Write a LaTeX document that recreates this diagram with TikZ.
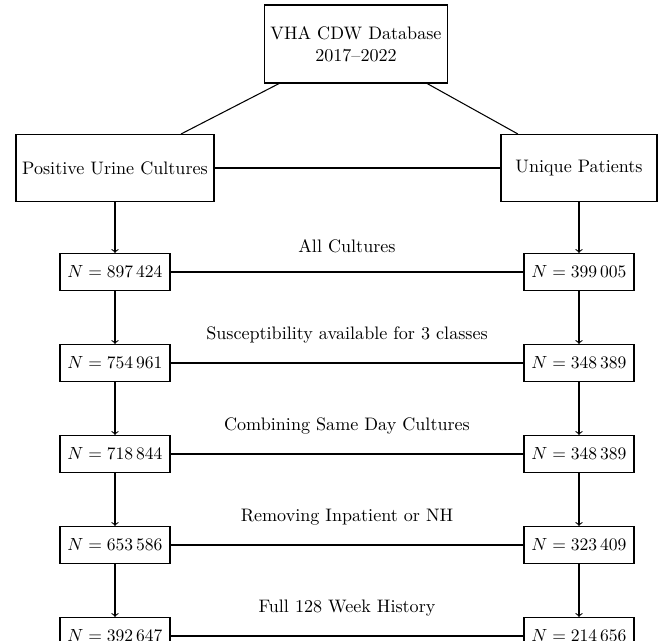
\documentclass[tikz,border=0pt]{standalone}
\usepackage{tikz}
\usepackage{amsmath}
\usepackage{amssymb}

\begin{document}
\begin{tikzpicture}[
    line width=0.6pt,
    every node/.style={font=\fontsize{10.3}{12.6}\selectfont},
    mainbox/.style={draw, align=center, minimum height=1.34cm},
    countbox/.style={draw, minimum width=2.2cm, minimum height=0.74cm},
    steplabel/.style={midway, above=0.26cm}
  ]
  % Fix the page size
  \useasboundingbox (0,0) rectangle (13.18,12.82);
  % Source and the two counts
  \node[mainbox, minimum width=3.64cm, minimum height=1.56cm] (cdw) at (7.12,11.94) {VHA CDW Database\\2017--2022};
  \node[mainbox, minimum width=3.96cm] (cult) at (2.30,9.46) {Positive Urine Cultures};
  \node[mainbox, minimum width=3.12cm] (pat) at (11.58,9.46) {Unique Patients};
  \draw (cdw) -- (cult);
  \draw (cdw) -- (pat);
  \draw (cult) -- (pat);
  % Filtering steps
  \node[countbox] (c1) at (2.30,7.38) {$N = 897\,424$};
  \node[countbox] (p1) at (11.58,7.38) {$N = 399\,005$};
  \node[countbox] (c2) at (2.30,5.56) {$N = 754\,961$};
  \node[countbox] (p2) at (11.58,5.56) {$N = 348\,389$};
  \node[countbox] (c3) at (2.30,3.74) {$N = 718\,844$};
  \node[countbox] (p3) at (11.58,3.74) {$N = 348\,389$};
  \node[countbox] (c4) at (2.30,1.92) {$N = 653\,586$};
  \node[countbox] (p4) at (11.58,1.92) {$N = 323\,409$};
  \node[countbox] (c5) at (2.30,0.10) {$N = 392\,647$};
  \node[countbox] (p5) at (11.58,0.10) {$N = 214\,656$};
  % Arrows down each column
  \draw[->] (cult) -- (c1);
  \draw[->] (pat) -- (p1);
  \foreach \a/\b in {1/2,2/3,3/4,4/5} {
    \draw[->] (c\a) -- (c\b);
    \draw[->] (p\a) -- (p\b);
  }
  % Rows with their step names
  \draw (c1) -- (p1) node[steplabel] {All Cultures};
  \draw (c2) -- (p2) node[steplabel] {Susceptibility available for 3 classes};
  \draw (c3) -- (p3) node[steplabel] {Combining Same Day Cultures};
  \draw (c4) -- (p4) node[steplabel] {Removing Inpatient or NH};
  \draw (c5) -- (p5) node[steplabel] {Full 128 Week History};
\end{tikzpicture}
\end{document}
